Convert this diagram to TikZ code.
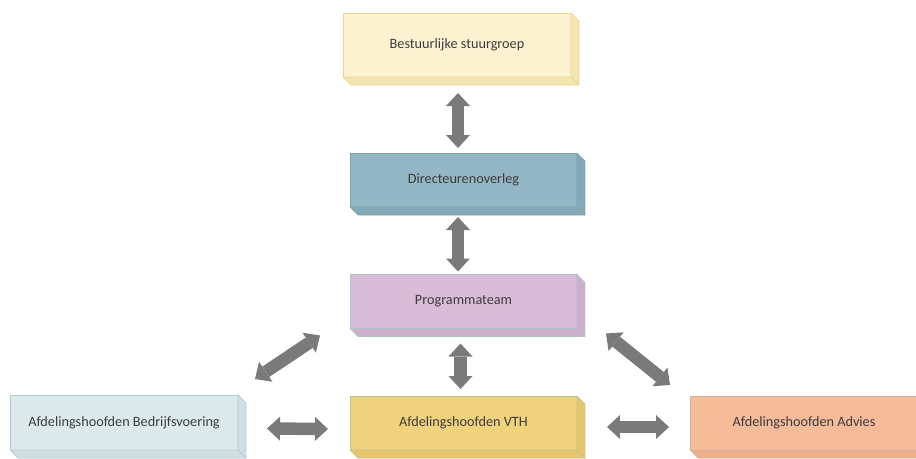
\documentclass[tikz,border=0pt]{standalone}
\usepackage{fontspec}
\setmainfont{Carlito}
\usetikzlibrary{arrows.meta,calc}
\definecolor{stuurvlak}{HTML}{FCF2CF}
\definecolor{stuurzij}{HTML}{F4E6B0}
\definecolor{stuurrand}{HTML}{EBD58C}
\definecolor{dirvlak}{HTML}{93B6C4}
\definecolor{dirzij}{HTML}{85A9B8}
\definecolor{dirrand}{HTML}{7EA7A6}
\definecolor{progvlak}{HTML}{D9BCD7}
\definecolor{progzij}{HTML}{CDAFCB}
\definecolor{progrand}{HTML}{AFC3C9}
\definecolor{bedrvlak}{HTML}{DDEAEC}
\definecolor{bedrzij}{HTML}{CFDFE2}
\definecolor{bedrrand}{HTML}{B3CACF}
\definecolor{vthvlak}{HTML}{F0D27D}
\definecolor{vthzij}{HTML}{E6C56D}
\definecolor{vthrand}{HTML}{BFC48E}
\definecolor{advvlak}{HTML}{F6BC9A}
\definecolor{advzij}{HTML}{ECAE8B}
\definecolor{advrand}{HTML}{C9B89A}
\definecolor{pijlgrijs}{HTML}{7A7A7A}
\definecolor{tekstgrijs}{HTML}{3C3C3C}
% zij- en onderkant van een blok
\newcommand{\blokdiepte}[3]{%
  \filldraw[fill=#2,draw=#3,line width=0.4pt,line join=round]
    (#1.north east) -- ++(8,8) -- ($(#1.south east)+(8,8)$) -- (#1.south east) -- cycle;
  \filldraw[fill=#2,draw=#3,line width=0.4pt,line join=round]
    (#1.south west) -- (#1.south east) -- ++(8,8) -- ($(#1.south west)+(8,8)$) -- cycle;}
\begin{document}
\begin{tikzpicture}[x=0.02cm,y=-0.02cm,
    blok/.style={draw=#1rand,fill=#1vlak,line width=0.4pt,inner sep=0pt,outer sep=0pt,
      minimum width=4.54cm,minimum height=1.08cm,text=tekstgrijs,
      font=\fontsize{8.1}{10}\selectfont},
    pijl/.style={draw=pijlgrijs,line width=0.25cm,
      {Triangle[length=0.26cm,width=0.48cm,line width=0pt]}-{Triangle[length=0.26cm,width=0.48cm,line width=0pt]}}]
    \path[use as bounding box,clip] (0,0) rectangle (916,458);
    \node[blok=stuur,minimum width=4.56cm,minimum height=1.28cm] (stuur) at (457,45) {Bestuurlijke stuurgroep};
    \node[blok=dir] (dir) at (463.5,180) {Directeurenoverleg};
    \node[blok=prog] (prog) at (463.5,301.5) {Programmateam};
    \node[blok=bedr,minimum width=4.56cm,minimum height=1.1cm] (bedr) at (124,422.5) {Afdelingshoofden Bedrijfsvoering};
    \node[blok=vth] (vth) at (463.5,423) {Afdelingshoofden VTH};
    \node[blok=adv,minimum width=4.56cm] (adv) at (804,423) {Afdelingshoofden Advies};
    \blokdiepte{stuur}{stuurzij}{stuurrand}
    \blokdiepte{dir}{dirzij}{dirrand}
    \blokdiepte{prog}{progzij}{progrand}
    \blokdiepte{bedr}{bedrzij}{bedrrand}
    \blokdiepte{vth}{vthzij}{vthrand}
    \blokdiepte{adv}{advzij}{advrand}
    \draw[pijl] ($(stuur.south)+(1,16)$) -- ($(stuur.south |- dir.north)+(1,-5)$);
    \draw[pijl] ($(stuur.south |- dir.south)+(1,10)$) -- ($(stuur.south |- prog.north)+(1,-3)$);
    \draw[pijl] ($(prog.south)+(-3,15)$) -- ($(vth.north)+(-3,-7)$);
    \draw[pijl] ($(prog.south west)+(-30,7)$) -- ($(bedr.north east)+(17,-16)$);
    \draw[pijl] ($(bedr.east)+(29,6)$) -- ($(vth.west)+(-22,6)$);
    \draw[pijl] ($(prog.south east)+(29,5)$) -- ($(adv.north west)+(-20,-11)$);
    \draw[pijl] ($(vth.east)+(30,4)$) -- ($(adv.west)+(-21,4)$);
\end{tikzpicture}
\end{document}
